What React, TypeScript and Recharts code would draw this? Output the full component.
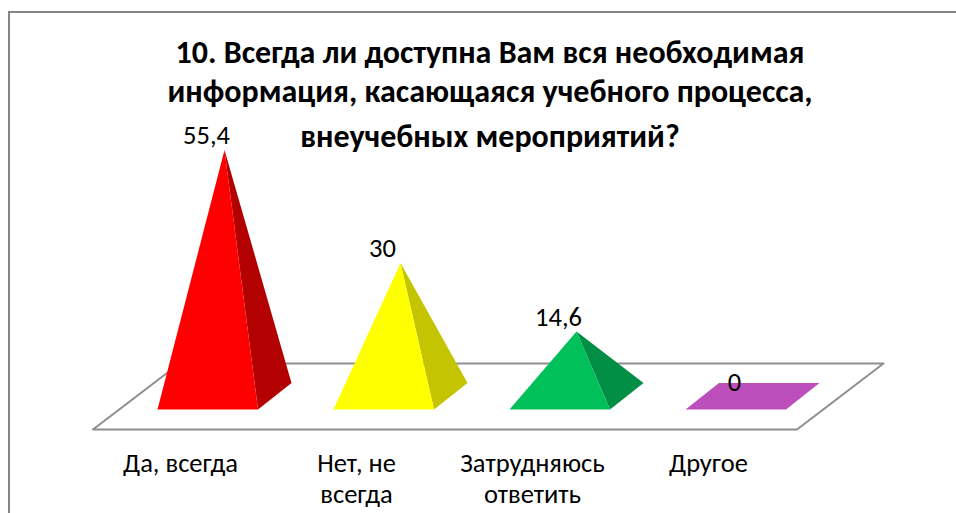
import React from 'react'
import { BarChart, Bar, XAxis, YAxis, LabelList, ReferenceArea } from 'recharts'

const categories = ['Да, всегда', 'Нет, не всегда', 'Затрудняюсь ответить', 'Другое']
const values = [55.4, 30, 14.6, 0]
const valueLabels = ['55,4', '30', '14,6', '0']
const faceColors = ['#FF0000', '#FFFF00', '#00C05A', '#BC4FBC']
const sideColors = ['#B30000', '#C4C400', '#008F44', '#BC4FBC']
const tickLines = [['Да, всегда'], ['Нет, не', 'всегда'], ['Затрудняюсь', 'ответить'], ['Другое']]
const titleLines = [
  '10. Всегда ли доступна Вам вся необходимая',
  'информация, касающаяся учебного процесса,',
  'внеучебных мероприятий?',
]

const FONT = 'Carlito, Calibri, Lato, "Open Sans", sans-serif'
const data = categories.map((name, i) => ({ name, value: values[i] }))

// oblique projection of the base square, all in px
const Pyramid = (props: any) => {
  const { x, y, width, height, index } = props
  const cx = x + width / 2
  const base = y + height
  const fl = `${cx - 67},${base + 13}`
  const fr = `${cx + 33.5},${base + 13}`
  const br = `${cx + 67},${base - 13.5}`
  const bl = `${cx - 33.5},${base - 13.5}`
  if (!height) return <polygon points={`${fl} ${fr} ${br} ${bl}`} fill={faceColors[index]} />
  const apex = `${cx},${y}`
  return (
    <g>
      <polygon points={`${fr} ${br} ${apex}`} fill={sideColors[index]} />
      <polygon points={`${fl} ${fr} ${apex}`} fill={faceColors[index]} />
    </g>
  )
}

const Floor = (props: any) => {
  const { x, width, y, height } = props
  const base = y + height
  const pts = [
    [x - 43.5, base + 33],
    [x + width - 43.5, base + 33],
    [x + width + 43, base - 33],
    [x + 43, base - 33],
  ]
  return (
    <polygon
      points={pts.map((p) => p.join(',')).join(' ')}
      fill="#fff"
      stroke="#8E8E8E"
      strokeWidth={2}
      strokeLinejoin="round"
    />
  )
}

const CategoryTick = (props: any) => {
  const { x, payload, index } = props
  const lines = tickLines[index ?? payload.index] ?? [payload.value]
  return (
    <text textAnchor="middle" fontFamily={FONT} fontSize={26.5} fill="#000">
      {lines.map((line: string, i: number) => (
        <tspan key={line} x={x - 44} y={471.5 + i * 31.5}>
          {line}
        </tspan>
      ))}
    </text>
  )
}

export default function App() {
  return (
    <div style={{ position: 'absolute', left: 0, top: 0, width: 956, height: 513, background: '#fff', overflow: 'hidden' }}>
      <div
        style={{
          position: 'absolute',
          left: 8,
          top: 11,
          width: 960,
          height: 520,
          border: '2px solid #868686',
        }}
      />
      <div
        style={{
          position: 'absolute',
          left: 90,
          width: 800,
          top: 33,
          fontFamily: FONT,
          fontWeight: 700,
          fontSize: 32,
          color: '#000',
          textAlign: 'center',
        }}
      >
        {titleLines.map((line, i) => (
          <div key={line} style={{ position: 'absolute', left: 0, right: 0, top: [0, 39, 84][i], lineHeight: '40px' }}>
            {line}
          </div>
        ))}
      </div>
      <div style={{ position: 'absolute', left: 0, top: 0 }}>
        <BarChart
          width={956}
          height={513}
          data={data}
          margin={{ top: 129.5, right: 115.5, bottom: 86.5, left: 136.5 }}
          barSize={100}
        >
          <YAxis hide domain={[0, 60]} />
          <XAxis dataKey="name" axisLine={false} tickLine={false} interval={0} tick={<CategoryTick />} />
          <ReferenceArea y1={0} y2={60} shape={<Floor />} />
          <Bar dataKey="value" isAnimationActive={false} shape={<Pyramid />}>
            <LabelList
              dataKey="value"
              position="top"
              offset={6}
              dx={-18}
              fontFamily={FONT}
              fontSize={26.5}
              fill="#000"
              formatter={(v: any) => valueLabels[values.indexOf(v)]}
            />
          </Bar>
        </BarChart>
      </div>
    </div>
  )
}
